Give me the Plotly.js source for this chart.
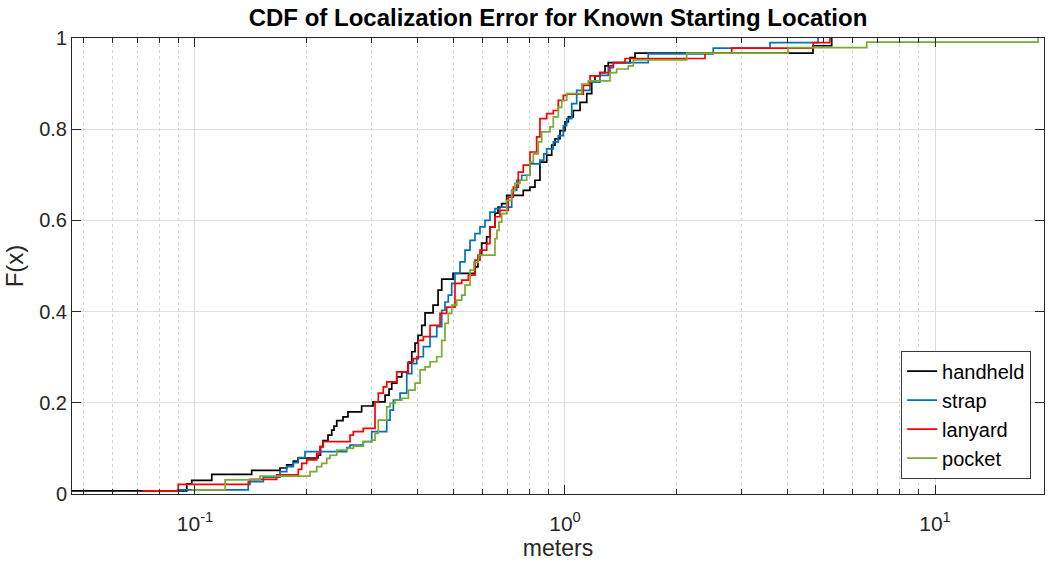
<!DOCTYPE html>
<html>
<head>
<meta charset="utf-8">
<script src="https://cdn.plot.ly/plotly-3.0.1.min.js"></script>
<style>html,body{margin:0;padding:0;background:#fff;}#chart{width:1050px;height:568px;}</style>
</head>
<body>
<div id="chart"></div>
<script>
const seriesNames = ['handheld', 'strap', 'lanyard', 'pocket'];

const handheldX = [0.040, 0.0950, 0.0980, 0.1110, 0.1423, 0.1697, 0.1770, 0.1844, 0.1899, 0.2150, 0.2184, 0.2218, 0.2288, 0.2342, 0.2375, 0.2416, 0.2512, 0.2591, 0.2821, 0.3028, 0.3264, 0.3346, 0.3402, 0.3510, 0.3621, 0.3766, 0.3854, 0.3933, 0.4007, 0.4101, 0.4186, 0.4400, 0.4539, 0.4644, 0.4982, 0.5711, 0.5819, 0.5954, 0.6142, 0.6270, 0.6468, 0.6590, 0.6743, 0.6957, 0.7713, 0.8042, 0.8296, 0.8558, 0.8923, 0.9206, 0.9397, 0.9694, 1.000, 1.021, 1.053, 1.098, 1.145, 1.181, 1.205, 1.243, 1.283, 1.309, 1.499, 1.546, 4.680, 5.258];
const handheldF = [0.007, 0.022, 0.030, 0.043, 0.052, 0.057, 0.064, 0.072, 0.079, 0.085, 0.104, 0.117, 0.129, 0.140, 0.149, 0.161, 0.169, 0.180, 0.193, 0.202, 0.217, 0.230, 0.243, 0.257, 0.268, 0.287, 0.312, 0.331, 0.348, 0.370, 0.397, 0.414, 0.447, 0.471, 0.484, 0.498, 0.524, 0.550, 0.564, 0.586, 0.616, 0.629, 0.637, 0.655, 0.666, 0.673, 0.688, 0.728, 0.743, 0.765, 0.779, 0.797, 0.816, 0.827, 0.841, 0.859, 0.878, 0.903, 0.917, 0.924, 0.939, 0.946, 0.957, 0.967, 0.983, 1.0];

const strapX = [0.0892, 0.1393, 0.1530, 0.1697, 0.1770, 0.1844, 0.1902, 0.1983, 0.2570, 0.2624, 0.2850, 0.3003, 0.3298, 0.3367, 0.3437, 0.3583, 0.3735, 0.3854, 0.3975, 0.4142, 0.4318, 0.4502, 0.4644, 0.4739, 0.4837, 0.4941, 0.5043, 0.5203, 0.5368, 0.5538, 0.5711, 0.5892, 0.6078, 0.6270, 0.6468, 0.6672, 0.7177, 0.7404, 0.7637, 0.8042, 0.8558, 0.8764, 0.8923, 0.9298, 0.9592, 0.9895, 1.0106, 1.0426, 1.0755, 1.168, 1.243, 1.309, 1.351, 1.679, 2.516, 3.581, 4.828];
const strapF = [0.009, 0.027, 0.037, 0.049, 0.060, 0.069, 0.080, 0.093, 0.102, 0.107, 0.115, 0.137, 0.162, 0.184, 0.206, 0.221, 0.264, 0.286, 0.301, 0.323, 0.345, 0.367, 0.403, 0.421, 0.436, 0.462, 0.484, 0.509, 0.535, 0.556, 0.571, 0.586, 0.600, 0.618, 0.626, 0.629, 0.666, 0.688, 0.699, 0.724, 0.732, 0.746, 0.757, 0.772, 0.786, 0.808, 0.823, 0.856, 0.885, 0.903, 0.918, 0.935, 0.946, 0.965, 0.978, 0.990, 1.0];

const lanyardX = [0.0722, 0.0901, 0.1408, 0.1663, 0.1902, 0.1943, 0.2004, 0.2133, 0.2177, 0.2222, 0.2624, 0.2678, 0.2850, 0.3066, 0.3129, 0.3228, 0.3298, 0.3510, 0.3773, 0.3891, 0.4015, 0.4142, 0.4318, 0.4595, 0.4789, 0.5043, 0.5258, 0.5480, 0.5711, 0.5892, 0.6142, 0.6270, 0.6468, 0.6672, 0.7026, 0.7249, 0.7478, 0.7713, 0.8042, 0.8384, 0.8558, 0.8923, 0.9298, 0.9592, 0.9895, 1.0106, 1.1207, 1.1685, 1.2435, 1.3233, 1.3506, 1.4525, 2.3894, 2.8223, 4.6890, 5.2022];
const lanyardF = [0.007, 0.021, 0.032, 0.042, 0.054, 0.067, 0.075, 0.089, 0.104, 0.115, 0.129, 0.137, 0.144, 0.202, 0.221, 0.235, 0.246, 0.268, 0.290, 0.297, 0.337, 0.345, 0.370, 0.396, 0.410, 0.462, 0.469, 0.480, 0.513, 0.535, 0.549, 0.586, 0.608, 0.622, 0.651, 0.673, 0.706, 0.721, 0.750, 0.783, 0.823, 0.834, 0.841, 0.863, 0.874, 0.877, 0.896, 0.917, 0.924, 0.939, 0.946, 0.955, 0.967, 0.978, 0.990, 1.0];

const pocketX = [0.0980, 0.1206, 0.1499, 0.2046, 0.2133, 0.2200, 0.2270, 0.2317, 0.2416, 0.2570, 0.2678, 0.2850, 0.3003, 0.3066, 0.3129, 0.3298, 0.3367, 0.3472, 0.3621, 0.3773, 0.3933, 0.4058, 0.4186, 0.4318, 0.4502, 0.4644, 0.4739, 0.4837, 0.4941, 0.5097, 0.5258, 0.5368, 0.5538, 0.5676, 0.5830, 0.6468, 0.6548, 0.6630, 0.6743, 0.6957, 0.7177, 0.7326, 0.7557, 0.7879, 0.8042, 0.8209, 0.8469, 0.8650, 0.9110, 0.9298, 0.9592, 0.9797, 1.0106, 1.1096, 1.1561, 1.3233, 1.3796, 1.4827, 1.5298, 2.1327, 4.0063, 6.5384, 18.99];
const pocketF = [0.009, 0.031, 0.039, 0.049, 0.060, 0.067, 0.078, 0.085, 0.096, 0.100, 0.105, 0.115, 0.118, 0.133, 0.162, 0.191, 0.199, 0.206, 0.210, 0.228, 0.243, 0.272, 0.279, 0.290, 0.301, 0.337, 0.374, 0.396, 0.414, 0.425, 0.436, 0.458, 0.491, 0.508, 0.524, 0.560, 0.578, 0.596, 0.615, 0.644, 0.666, 0.681, 0.688, 0.699, 0.728, 0.746, 0.772, 0.794, 0.805, 0.827, 0.848, 0.863, 0.878, 0.899, 0.906, 0.924, 0.932, 0.939, 0.952, 0.967, 0.979, 0.991, 1.0];

const yTickVals = [0, 0.2, 0.4, 0.6, 0.8, 1];
const xTickVals = [0.1, 1, 10];
const xTickText = ['10<sup>-1</sup>', '10<sup>0</sup>', '10<sup>1</sup>'];

const colors = ['#000000', '#0072BD', '#FF0000', '#77AC30'];
const xs = [handheldX, strapX, lanyardX, pocketX];
const fs = [handheldF, strapF, lanyardF, pocketF];

const font = 'Liberation Sans, Arial, Helvetica, sans-serif';
const axisColor = '#262626';

const traces = seriesNames.map((name, i) => ({
  type: 'scatter',
  mode: 'lines',
  name: name,
  x: xs[i],
  y: fs[i],
  line: {shape: 'hv', color: colors[i], width: 1.7},
  hoverinfo: 'x+y+name'
}));

const layout = {
  width: 1050,
  height: 568,
  margin: {l: 72, r: 6, t: 38, b: 74, pad: 0},
  paper_bgcolor: '#ffffff',
  plot_bgcolor: '#ffffff',
  font: {family: font, color: '#000000', size: 20},
  title: {
    text: '<b>CDF of Localization Error for Known Starting Location</b>',
    font: {family: font, size: 24, color: '#000000'},
    x: 0.5, xref: 'paper', xanchor: 'center',
    y: 1 - 18 / 568, yref: 'container', yanchor: 'middle'
  },
  xaxis: {
    type: 'log',
    range: [-1.3324, 1.2946],
    tickmode: 'array',
    tickvals: xTickVals,
    ticktext: xTickText,
    tickfont: {family: font, size: 21, color: '#262626'},
    ticklabelstandoff: 11,
    ticks: 'inside', ticklen: 9, tickcolor: axisColor, tickwidth: 1,
    showline: true, linecolor: axisColor, linewidth: 1, mirror: 'ticks',
    showgrid: true, gridcolor: '#dedede', gridwidth: 1,
    minor: {dtick: 'D1', ticks: 'inside', ticklen: 5, tickcolor: axisColor, showgrid: true, gridcolor: '#d4d4d4', griddash: 'dot', gridwidth: 1},
    zeroline: false,
    title: {text: 'meters', font: {family: font, size: 23, color: '#262626'}, standoff: 4}
  },
  yaxis: {
    range: [0, 1],
    tickmode: 'array',
    tickvals: yTickVals,
    tickfont: {family: font, size: 20, color: '#262626'},
    ticks: 'inside', ticklen: 9, tickcolor: axisColor, tickwidth: 1,
    showline: true, linecolor: axisColor, linewidth: 1, mirror: 'ticks',
    showgrid: true, gridcolor: '#dedede', gridwidth: 1,
    zeroline: false,
    title: {text: 'F(x)', font: {family: font, size: 24, color: '#262626'}, standoff: 8}
  },
  legend: {
    x: 0.853, y: 0.174, xanchor: 'left', yanchor: 'middle',
    bgcolor: '#ffffff', bordercolor: '#3a3a3a', borderwidth: 1,
    font: {family: font, size: 20, color: '#000000'},
    itemwidth: 30, tracegroupgap: 0
  },
  showlegend: true
};

Plotly.newPlot('chart', traces, layout, {displayModeBar: false, staticPlot: true});
</script>
</body>
</html>
